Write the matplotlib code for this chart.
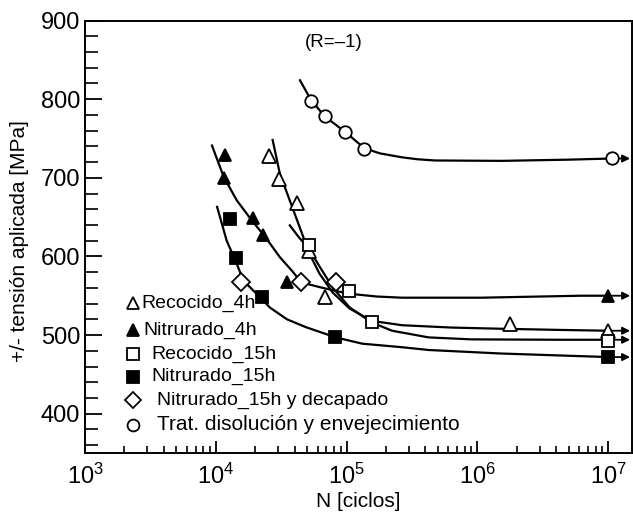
import numpy as np
import matplotlib
matplotlib.use("Agg")
import matplotlib.pyplot as plt
from matplotlib.ticker import LogLocator, MultipleLocator, NullFormatter

plt.rcParams['font.family'] = ['Liberation Sans', 'DejaVu Sans']
plt.rcParams['mathtext.default'] = 'regular'

# ---------------- data ----------------
# Recocido_4h (open triangles)
rec4_N = [25600, 30500, 41800, 51300, 67800, 1.76e6, 1.0e7]
rec4_S = [728, 698, 668, 607, 549, 514, 505]
rec4_curve_N = [27200, 30900, 36800, 43800, 52100, 62100, 78300, 104800, 155600, 265600, 635000, 1.52e6, 4.33e6, 1.0e7]
rec4_curve_S = [748, 705, 671, 637, 603, 578, 554, 534, 518, 512.5, 509.5, 508, 506.5, 505.5]

# Nitrurado_4h (filled triangles)
nit4_N = [11840, 11640, 19400, 23100, 35100, 1.0e7]
nit4_S = [729, 700, 649, 627, 567, 550]
nit4_curve_N = [9350, 11500, 14500, 18800, 23800, 30900, 39000, 44900, 62000, 80700, 105000, 170000, 265600, 1.07e6, 6.14e6, 1.0e7]
nit4_curve_S = [741, 701, 671, 646, 625, 599, 580, 567, 561, 556.5, 552.5, 549, 547.5, 547.5, 550, 550]

# Recocido_15h (open squares)
rec15_N = [51500, 103500, 155600, 1.0e7]
rec15_S = [615, 556, 516, 493]
rec15_curve_N = [36800, 43300, 51500, 61400, 78300, 104800, 155600, 222600, 423600, 901000, 4.33e6, 1.0e7]
rec15_curve_S = [639.5, 624, 610, 588.5, 560.5, 535.5, 516, 505.5, 497, 494.5, 494, 494]

# Nitrurado_15h (filled squares)
nit15_N = [12760, 14360, 22400, 82000, 1.0e7]
nit15_S = [647, 598, 548, 497, 472]
nit15_curve_N = [10230, 12110, 14100, 16300, 21800, 25900, 35000, 48900, 82600, 132000, 266000, 423000, 1.52e6, 1.0e7]
nit15_curve_S = [663, 620, 595, 569, 548, 535, 520, 510, 497, 489, 484.5, 481, 476.5, 472]

# Nitrurado_15h y decapado (diamonds)
dec_N = [15700, 44900, 82600]
dec_S = [568, 567, 567]

# Trat. disolucion y envejecimiento (circles)
trat_N = [53700, 67800, 97800, 136200, 1.07e7]
trat_S = [797, 778, 758, 736, 725]
trat_curve_N = [44000, 53400, 68100, 98100, 136800, 180000, 265600, 350000, 472000, 1.52e6, 4.89e6, 1.07e7]
trat_curve_S = [824, 799, 778, 758, 737.5, 731, 726, 723.5, 722, 721.5, 723, 724.5]

legend_labels = ['Recocido_4h', 'Nitrurado_4h', 'Recocido_15h', 'Nitrurado_15h',
                 'Nitrurado_15h y decapado', 'Trat. disolución y envejecimiento']

# ---------------- figure ----------------
fig = plt.figure(figsize=(6.33, 5.14), dpi=100)
ax = fig.add_axes([85 / 633, 61 / 514, 547 / 633, 432.5 / 514])
ax.set_xscale('log')
ax.set_xlim(1e3, 1.52e7)
ax.set_ylim(350, 900)

lw = 1.6
curves = [(rec4_curve_N, rec4_curve_S), (nit4_curve_N, nit4_curve_S),
          (rec15_curve_N, rec15_curve_S), (nit15_curve_N, nit15_curve_S),
          (trat_curve_N, trat_curve_S)]
for cn, cs in curves:
    ax.plot(cn, cs, color='black', lw=lw, zorder=2, solid_joinstyle='round')
    ax.annotate('', xy=(1.47e7, cs[-1]), xytext=(cn[-1], cs[-1]),
                arrowprops=dict(arrowstyle='-|>', color='black', lw=1.3,
                                mutation_scale=11, shrinkA=0, shrinkB=0),
                zorder=2)

mk = dict(linestyle='none', color='black', zorder=3, markeredgewidth=1.3)
ax.plot(rec4_N, rec4_S, marker='^', ms=9.5, mfc='white', **mk)
ax.plot(nit4_N, nit4_S, marker='^', ms=8.5, mfc='black', **mk)
ax.plot(rec15_N, rec15_S, marker='s', ms=9, mfc='white', **mk)
ax.plot(nit15_N, nit15_S, marker='s', ms=9, mfc='black', **mk)
ax.plot(dec_N, dec_S, marker='D', ms=9, mfc='white', **mk)
ax.plot(trat_N, trat_S, marker='o', ms=9, mfc='white', **mk)

# manual legend
leg_markers = [('^', 'white', 8), ('^', 'black', 8), ('s', 'white', 8.5),
               ('s', 'black', 8.5), ('D', 'white', 8.5), ('o', 'white', 8.5)]
leg_y = [0.346, 0.284, 0.229, 0.176, 0.122, 0.065]
leg_tx = [0.1037, 0.1066, 0.1219, 0.1219, 0.1311, 0.1311]
leg_fs = [14, 14, 14, 14, 14, 15]
for (m, fc, s), yy, tx, lab, fs in zip(leg_markers, leg_y, leg_tx, legend_labels, leg_fs):
    ax.plot([0.0878], [yy], marker=m, ms=s, mfc=fc, mec='black', mew=1.3,
            linestyle='none', transform=ax.transAxes, clip_on=False)
    ax.text(tx, yy, lab, transform=ax.transAxes, fontsize=fs, va='center', ha='left')

ax.text(0.455, 0.950, '(R=–1)', transform=ax.transAxes, fontsize=13.5,
        ha='center', va='center')

# ticks
ax.set_yticks([400, 500, 600, 700, 800, 900])
ax.yaxis.set_minor_locator(MultipleLocator(20))
ax.xaxis.set_major_locator(LogLocator(base=10, numticks=10))
ax.xaxis.set_minor_locator(LogLocator(base=10, subs=np.arange(2, 10), numticks=20))
ax.xaxis.set_minor_formatter(NullFormatter())
ax.tick_params(axis='both', which='major', direction='in', labelsize=17, width=1.3)
ax.tick_params(axis='y', which='major', length=12)
ax.tick_params(axis='y', which='minor', direction='in', length=9, width=1.2)
ax.tick_params(axis='x', which='major', length=9, pad=8)
ax.tick_params(axis='x', which='minor', direction='in', length=5, width=1.2)
for sp in ax.spines.values():
    sp.set_linewidth(1.4)

ax.set_ylabel('+/- tensión aplicada [MPa]', fontsize=15)
ax.yaxis.set_label_coords(-0.102, 0.49)
ax.set_xlabel('N [ciclos]', fontsize=15)
ax.xaxis.set_label_coords(0.5, -0.09)

fig.savefig('out.png', dpi=100)
